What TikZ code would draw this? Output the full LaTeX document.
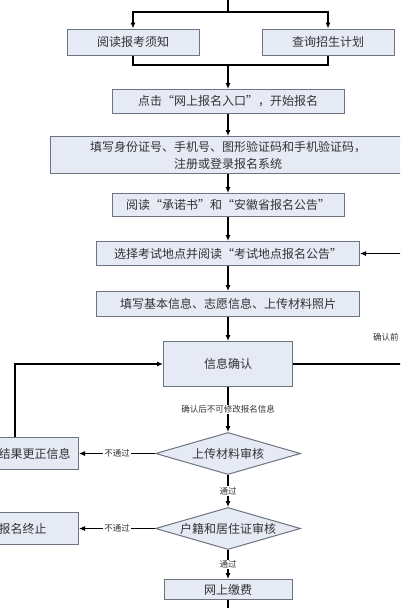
\documentclass[tikz,border=0pt]{standalone}
\usepackage{fontspec}
\newfontfamily\cjk{Noto Sans CJK SC}
\usetikzlibrary{arrows.meta, positioning, shapes.geometric}
\definecolor{bordure}{HTML}{6E7380}
\definecolor{fondbleu}{HTML}{E6EAF5}
\definecolor{texte}{HTML}{333333}
\tikzset{
  etape/.style={rectangle, draw=bordure, fill=fondbleu, text=texte,
    line width=1pt, font=\cjk\fontsize{12}{17}\selectfont, align=center,
    minimum height=24pt, inner sep=2pt},
  controle/.style={diamond, draw=bordure, fill=fondbleu, text=texte,
    line width=1pt, font=\cjk\fontsize{12}{14}\selectfont, aspect=3.45,
    inner sep=0pt, minimum width=145pt, minimum height=42pt},
  bordgauche/.style={etape, minimum height=32pt, text width=70pt, inner xsep=10pt},
  fleche/.style={-{Latex[length=6pt,width=5pt]}, line width=1.1pt, color=black},
  trait/.style={line width=1.1pt, color=black},
  etiquette/.style={font=\cjk\fontsize{8.5}{9}\selectfont, text=texte,
    fill=white, inner sep=1pt}
}
\begin{document}
\begin{tikzpicture}[x=1pt, y=-1pt]
    \clip (0,0) rectangle (400,608);
    \fill[white] (0,0) rectangle (400,608);

    % Deux lectures au depart
    \coordinate (haut) at (228,-5);
    \coordinate (fourche) at (228,12);
    \node[etape, minimum width=132pt, minimum height=26pt] (lire) at (133,42) {阅读报考须知};
    \node[etape, minimum width=132pt, minimum height=26pt] (plan) at (328,42) {查询招生计划};
    \coordinate (jonction) at (228,65);

    % Inscription en ligne
    \node[etape, minimum width=232pt, below=24pt of jonction] (entree) {点击“网上报名入口”，开始报名};
    \node[etape, minimum width=356pt, minimum height=37pt, below=22pt of entree] (inscrire)
      {填写身份证号、手机号、图形验证码和手机验证码，\\注册或登录报名系统};
    \node[etape, minimum width=232pt, minimum height=23pt, below=19pt of inscrire] (promesse)
      {阅读“承诺书”和“安徽省报名公告”};
    \node[etape, minimum width=263pt, below=24pt of promesse] (lieu)
      {选择考试地点并阅读“考试地点报名公告”};
    \node[etape, minimum width=263pt, minimum height=25pt, below=25pt of lieu] (saisie)
      {填写基本信息、志愿信息、上传材料照片};
    \node[etape, minimum width=129pt, minimum height=45pt, below=24pt of saisie] (confirm) {信息确认};

    % Controles
    \node[controle, below=45pt of confirm] (materiel) {上传材料审核};
    \node[controle, below=32pt of materiel] (hukou) {户籍和居住证审核};
    \node[etape, minimum width=128pt, minimum height=20pt, below=29pt of hukou] (payer) {网上缴费};
    \node[bordgauche, align=right, left=76pt of materiel] (corriger) {结果更正信息};
    \node[bordgauche, align=left, left=76pt of hukou] (terminer) {报名终止};

    % Points libres
    \coordinate[right=50pt of lieu] (retour);
    \coordinate[right=115pt of confirm] (droite);
    \coordinate (gauche) at (15,0);
    \coordinate[below=30pt of payer] (bas);
    \node[etiquette, fill=none, anchor=west] (avant) at (372,337) {确认前};

    \draw[trait] (haut) -- (fourche);
    \draw[fleche] (fourche) -| (lire);
    \draw[fleche] (fourche) -| (plan);
    \draw[trait] (lire) |- (jonction) -| (plan);
    \draw[fleche] (jonction) -- (entree);
    \draw[fleche] (entree) -- (inscrire);
    \draw[fleche] (inscrire) -- (promesse);
    \draw[fleche] (promesse) -- (lieu);
    \draw[fleche] (retour) -- (lieu);
    \draw[fleche] (lieu) -- (saisie);
    \draw[fleche] (saisie) -- (confirm);
    \draw[trait] (confirm) -- (droite);
    \draw[fleche] (confirm) -- node[etiquette] {确认后不可修改报名信息} (materiel);
    \draw[fleche] (materiel) -- node[etiquette] {不通过} (corriger);
    \draw[fleche] (materiel) -- node[etiquette] {通过} (hukou);
    \draw[fleche] (hukou) -- node[etiquette] {不通过} (terminer);
    \draw[fleche] (hukou) -- node[etiquette] {通过} (payer);
    \draw[fleche] (gauche |- corriger.north) |- (confirm);
    \draw[trait] (payer) -- (bas);
\end{tikzpicture}
\end{document}
